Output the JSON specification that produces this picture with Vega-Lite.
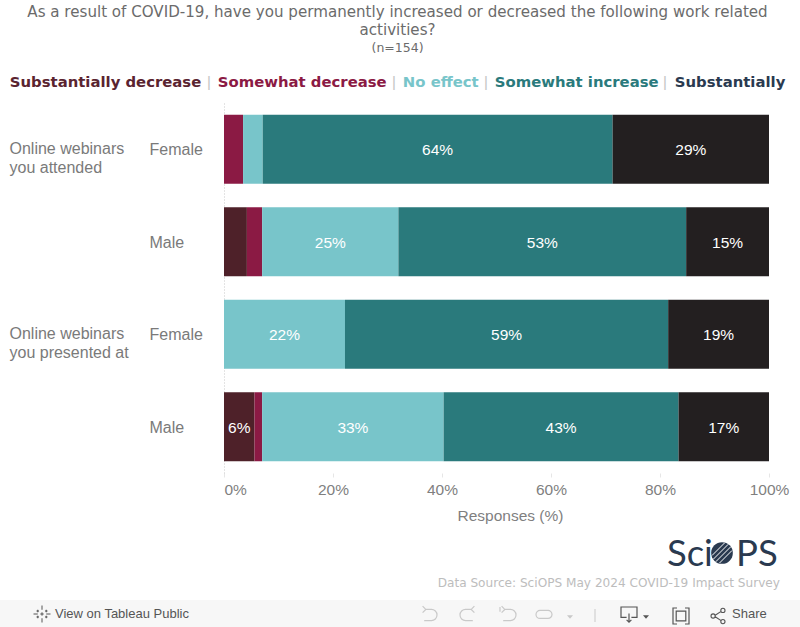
{"$schema":"https://vega.github.io/schema/vega-lite/v6.json","width":545,"height":370,"autosize":{"type":"none"},"padding":{"left":224,"top":103,"right":31,"bottom":154},"background":"#ffffff",
"title":{"text":["As a result of COVID-19, have you permanently increased or decreased the following work related","activities?"],"subtitle":"(n=154)","anchor":"middle","frame":"group","dx":-99,"offset":21,"font":"DejaVu Sans","fontSize":15.1,"fontWeight":"normal","color":"#6b6b6b","lineHeight":18,"subtitleFont":"DejaVu Sans","subtitleFontSize":12.5,"subtitleColor":"#6b6b6b","subtitlePadding":3},
"config":{"view":{"stroke":null},"font":"Liberation Sans"},
"data":{"values":[
{"row":"Online webinars you attended / Female","response":"Somewhat decrease","rank":2,"share":0.035},
{"row":"Online webinars you attended / Female","response":"No effect","rank":3,"share":0.036},
{"row":"Online webinars you attended / Female","response":"Somewhat increase","rank":4,"share":0.642},
{"row":"Online webinars you attended / Female","response":"Substantially increase","rank":5,"share":0.287},
{"row":"Online webinars you attended / Male","response":"Substantially decrease","rank":1,"share":0.042},
{"row":"Online webinars you attended / Male","response":"Somewhat decrease","rank":2,"share":0.028},
{"row":"Online webinars you attended / Male","response":"No effect","rank":3,"share":0.25},
{"row":"Online webinars you attended / Male","response":"Somewhat increase","rank":4,"share":0.528},
{"row":"Online webinars you attended / Male","response":"Substantially increase","rank":5,"share":0.152},
{"row":"Online webinars you presented at / Female","response":"No effect","rank":3,"share":0.222},
{"row":"Online webinars you presented at / Female","response":"Somewhat increase","rank":4,"share":0.593},
{"row":"Online webinars you presented at / Female","response":"Substantially increase","rank":5,"share":0.185},
{"row":"Online webinars you presented at / Male","response":"Substantially decrease","rank":1,"share":0.056},
{"row":"Online webinars you presented at / Male","response":"Somewhat decrease","rank":2,"share":0.014},
{"row":"Online webinars you presented at / Male","response":"No effect","rank":3,"share":0.333},
{"row":"Online webinars you presented at / Male","response":"Somewhat increase","rank":4,"share":0.431},
{"row":"Online webinars you presented at / Male","response":"Substantially increase","rank":5,"share":0.166}
]},
"resolve":{"axis":{"y":"independent"}},
"layer":[
{"mark":{"type":"bar","tooltip":false},
"encoding":{
"y":{"field":"row","type":"nominal","sort":null,"scale":{"paddingInner":0.254,"paddingOuter":0.127},"title":null,"axis":{"orient":"left","labelAlign":"left","labelPadding":75,"labelOffset":1,"labelFontSize":16,"labelColor":"#7a7a7a","ticks":false,"domain":true,"domainColor":"#c8c8c8","domainDash":[1,2],"labelExpr":"split(datum.label,' / ')[1]"}},
"x":{"field":"share","type":"quantitative","stack":"zero","scale":{"domain":[0,1],"nice":false},"title":"Responses (%)","axis":{"values":[0,0.2,0.4,0.6,0.8,1],"format":".0%","grid":false,"domain":false,"tickColor":"#e6e6e6","tickSize":4,"tickOffset":0,"labelColor":"#7f7f7f","labelFontSize":15.5,"labelPadding":5,"labelAlign":{"condition":{"test":"datum.value===0","value":"left"},"value":"center"},"titleColor":"#7f7f7f","titleFontSize":15.5,"titleFontWeight":"normal","titlePadding":11,"titleX":286}},
"color":{"field":"response","type":"nominal","scale":{"domain":["Substantially decrease","Somewhat decrease","No effect","Somewhat increase","Substantially increase"],"range":["#4e2129","#8b1a44","#78c5ca","#2a7a7c","#231f20"]},"legend":{"orient":"none","legendX":-229,"legendY":-28,"direction":"horizontal","columns":5,"title":null,"symbolSize":0,"symbolOpacity":0,"symbolStrokeWidth":0,"labelOffset":0,"symbolOffset":0,"columnPadding":1,"labelFont":"DejaVu Sans","labelFontWeight":"bold","labelFontSize":14.85,"labelLimit":300,"padding":0,"labelExpr":"datum.value==='Substantially increase'?'Substantially':datum.label","labelColor":{"expr":"{'Substantially decrease':'#5a2430','Somewhat decrease':'#8b1a44','No effect':'#78c5ca','Somewhat increase':'#2a7a7c','Substantially increase':'#2a3a50'}[datum.value]"}}},
"order":{"field":"rank","type":"quantitative"}}},
{"mark":{"type":"text","color":"#ffffff","fontSize":15.5,"font":"Liberation Sans","dy":1},
"encoding":{
"y":{"field":"row","type":"nominal","sort":null,"title":null,"axis":{"orient":"left","labelAlign":"left","labelBaseline":"middle","labelPadding":215,"labelFontSize":16,"labelLineHeight":18.5,"labelColor":"#7a7a7a","labelOffset":0,"ticks":false,"domain":false,"labelExpr":"datum.label==='Online webinars you attended / Female'?['Online webinars','you attended']:datum.label==='Online webinars you presented at / Female'?['Online webinars','you presented at']:''"}},
"x":{"field":"share","type":"quantitative","stack":"zero","bandPosition":0.5},
"detail":{"field":"response"},
"order":{"field":"rank","type":"quantitative"},
"text":{"condition":{"test":"datum.share>=0.05","field":"share","format":".0%"},"value":""}}},
{"data":{"values":[{"t":"|"}]},"mark":{"type":"text","text":"|","fontSize":15,"baseline":"middle","color":"#c4c4c4"},"encoding":{"x":{"value":-15},"y":{"value":-21}}},
{"data":{"values":[{"t":"|"}]},"mark":{"type":"text","text":"|","fontSize":15,"baseline":"middle","color":"#c4c4c4"},"encoding":{"x":{"value":170},"y":{"value":-21}}},
{"data":{"values":[{"t":"|"}]},"mark":{"type":"text","text":"|","fontSize":15,"baseline":"middle","color":"#c4c4c4"},"encoding":{"x":{"value":262},"y":{"value":-21}}},
{"data":{"values":[{"t":"|"}]},"mark":{"type":"text","text":"|","fontSize":15,"baseline":"middle","color":"#c4c4c4"},"encoding":{"x":{"value":441},"y":{"value":-21}}},
{"data":{"values":[{"t":"band"}]},"mark":{"type":"rect","color":"#f7f7f7"},"encoding":{"x":{"value":-224},"x2":{"value":576},"y":{"value":497},"y2":{"value":524}}},
{"data":{"values":[{"t":"View on Tableau Public"}]},"mark":{"type":"text","align":"left","baseline":"middle","fontSize":13,"color":"#555555","font":"Liberation Sans"},"encoding":{"x":{"value":-169},"y":{"value":511},"text":{"field":"t"}}},
{"data":{"values":[{"t":"Share"}]},"mark":{"type":"text","align":"left","baseline":"middle","fontSize":13,"color":"#555555","font":"Liberation Sans"},"encoding":{"x":{"value":508},"y":{"value":511},"text":{"field":"t"}}},
{"data":{"values":[{"t":"Data Source: SciOPS May 2024 COVID-19 Impact Survey"}]},"mark":{"type":"text","align":"right","baseline":"middle","fontSize":12.12,"color":"#bdbdbd","font":"DejaVu Sans"},"encoding":{"x":{"value":556},"y":{"value":480},"text":{"field":"t"}}},
{"data":{"values":[{"t":"Sci"}]},"mark":{"type":"text","align":"left","baseline":"alphabetic","fontSize":36.5,"color":"#2a3a50","font":"Lato"},"encoding":{"x":{"value":443},"y":{"value":463},"text":{"field":"t"}}},
{"data":{"values":[{"t":"PS"}]},"mark":{"type":"text","align":"left","baseline":"alphabetic","fontSize":36.5,"color":"#2a3a50","font":"Lato"},"encoding":{"x":{"value":512},"y":{"value":463},"text":{"field":"t"}}},
{"data":{"values":[{"t":"o"}]},"mark":{"type":"point","shape":"circle","filled":true,"size":470,"color":"#2a3a50","opacity":1},"encoding":{"x":{"value":498},"y":{"value":450}}},
{"data":{"values":[{"t":"h"}]},"mark":{"type":"point","shape":"M-0.8,0.2L0.2,-0.8M-0.7,0.5L0.5,-0.7M-0.5,0.7L0.7,-0.5M-0.2,0.8L0.8,-0.2","filled":false,"size":625,"stroke":"#ffffff","strokeWidth":1,"opacity":1},"encoding":{"x":{"value":498},"y":{"value":450}}},
{"data":{"values":[{"t":"i"}]},"mark":{"type":"point","shape":"M-0.8,-0.3L-0.4,-0.7L-0.8,-1.1M-0.4,-0.7L0.3,-0.7A0.7,0.7 0 0 1 0.3,0.7L-0.6,0.7","filled":false,"size":256,"stroke":"#c9c9c9","strokeWidth":1.2,"opacity":1},"encoding":{"x":{"value":205},"y":{"value":512}}},
{"data":{"values":[{"t":"i"}]},"mark":{"type":"point","shape":"M0.8,-0.3L0.4,-0.7L0.8,-1.1M0.4,-0.7L-0.3,-0.7A0.7,0.7 0 0 0 -0.3,0.7L0.6,0.7","filled":false,"size":256,"stroke":"#c9c9c9","strokeWidth":1.2,"opacity":1},"encoding":{"x":{"value":244},"y":{"value":512}}},
{"data":{"values":[{"t":"i"}]},"mark":{"type":"point","shape":"M-1,-1V-0.4M-0.8,-0.3L-0.4,-0.7L-0.8,-1.1M-0.4,-0.7L0.3,-0.7A0.7,0.7 0 0 1 0.3,0.7L-0.6,0.7","filled":false,"size":256,"stroke":"#c9c9c9","strokeWidth":1.2,"opacity":1},"encoding":{"x":{"value":284},"y":{"value":512}}},
{"data":{"values":[{"t":"i"}]},"mark":{"type":"point","shape":"M0.6,-0.7L-0.5,-0.7A0.5,0.5 0 0 0 -0.5,0.3L0.5,0.3A0.5,0.5 0 0 0 0.5,-0.7","filled":false,"size":256,"stroke":"#c9c9c9","strokeWidth":1.2,"opacity":1},"encoding":{"x":{"value":320},"y":{"value":513}}},
{"data":{"values":[{"t":"i"}]},"mark":{"type":"point","shape":"M-1,-0.6H1L0,0.6Z","filled":true,"size":36,"color":"#c9c9c9","opacity":1},"encoding":{"x":{"value":346},"y":{"value":514}}},
{"data":{"values":[{"t":"i"}]},"mark":{"type":"rule","color":"#c9c9c9"},"encoding":{"x":{"value":371},"y":{"value":506},"y2":{"value":519}}},
{"data":{"values":[{"t":"i"}]},"mark":{"type":"point","shape":"M-0.3,0.3H-1V-1H1V0.3H0.3M0,-0.2V0.9M-0.3,0.6L0,0.9L0.3,0.6","filled":false,"size":256,"stroke":"#555555","strokeWidth":1.2,"opacity":1},"encoding":{"x":{"value":405},"y":{"value":512}}},
{"data":{"values":[{"t":"i"}]},"mark":{"type":"point","shape":"M-1,-0.6H1L0,0.6Z","filled":true,"size":36,"color":"#555555","opacity":1},"encoding":{"x":{"value":422},"y":{"value":514}}},
{"data":{"values":[{"t":"i"}]},"mark":{"type":"point","shape":"M-0.5,-1H-1V1H-0.5M0.5,-1H1V1H0.5M-0.6,-0.6H0.6V0.6H-0.6Z","filled":false,"size":256,"stroke":"#555555","strokeWidth":1.2,"opacity":1},"encoding":{"x":{"value":457},"y":{"value":513}}},
{"data":{"values":[{"t":"i"}]},"mark":{"type":"point","shape":"M-0.4,-0.1L0.5,-0.7M-0.4,0.1L0.5,0.7M-0.4,0A0.3,0.3 0 1 1 -1,0A0.3,0.3 0 1 1 -0.4,0M1,-0.8A0.3,0.3 0 1 1 0.4,-0.8A0.3,0.3 0 1 1 1,-0.8M1,0.8A0.3,0.3 0 1 1 0.4,0.8A0.3,0.3 0 1 1 1,0.8","filled":false,"size":196,"stroke":"#555555","strokeWidth":1.1,"opacity":1},"encoding":{"x":{"value":494},"y":{"value":513}}},
{"data":{"values":[{"t":"i"}]},"mark":{"type":"point","shape":"M0,-1V-0.5M0,0.5V1M-1,0H-0.5M0.5,0H1M-0.5,-0.5V-0.2M-0.65,-0.35H-0.35M0.5,-0.5V-0.2M0.35,-0.35H0.65M-0.5,0.2V0.5M-0.65,0.35H-0.35M0.5,0.2V0.5M0.35,0.35H0.65M0,-0.2V0.2M-0.2,0H0.2","filled":false,"size":289,"stroke":"#555555","strokeWidth":1,"opacity":1},"encoding":{"x":{"value":-182},"y":{"value":511}}}
]}
